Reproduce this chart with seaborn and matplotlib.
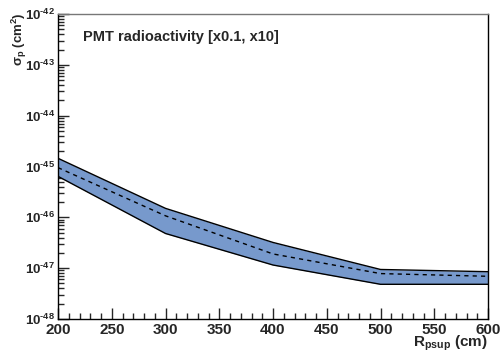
import matplotlib
matplotlib.use("Agg")
import matplotlib.pyplot as plt
import matplotlib.ticker as mticker
import seaborn as sns
import pandas as pd
import numpy as np

radius = [200, 300, 400, 500, 600]
sigma_upper = [1.45e-45, 1.5e-46, 3.2e-47, 9.4e-48, 8.5e-48]
sigma_central = [9.5e-46, 1.07e-46, 1.9e-47, 7.8e-48, 6.9e-48]
sigma_lower = [6.4e-46, 4.8e-47, 1.15e-47, 4.8e-48, 4.8e-48]
y_exponents = [-48, -47, -46, -45, -44, -43, -42]
x_ticks = [200, 250, 300, 350, 400, 450, 500, 550, 600]

sns.set_style("white")
plt.rcParams['font.family'] = ['Liberation Sans', 'DejaVu Sans']
plt.rcParams['mathtext.fontset'] = 'custom'
plt.rcParams['mathtext.rm'] = 'Liberation Sans:bold'
plt.rcParams['mathtext.bf'] = 'Liberation Sans:bold'
plt.rcParams['mathtext.it'] = 'Liberation Sans:bold'
plt.rcParams['axes.unicode_minus'] = False

df = pd.DataFrame({"R": radius, "upper": sigma_upper,
                   "central": sigma_central, "lower": sigma_lower})

fig = plt.figure(figsize=(5, 3.52), dpi=100)
ax = fig.add_axes([0.116, 0.094, 0.86, 0.866])

ax.fill_between(df["R"], df["lower"], df["upper"], color="#7799cc", lw=0)
sns.lineplot(data=df, x="R", y="upper", ax=ax, color="black", lw=1.0)
sns.lineplot(data=df, x="R", y="lower", ax=ax, color="black", lw=1.0)
sns.lineplot(data=df, x="R", y="central", ax=ax, color="black", lw=1.0,
             linestyle=(0, (3, 3)))

ax.set_yscale("log")
ax.set_xlim(200, 600)
ax.set_ylim(1e-48, 1e-42)
ax.set_xticks(x_ticks)
ax.set_xticklabels([str(t) for t in x_ticks], fontsize=11, fontweight="bold")
ax.xaxis.set_minor_locator(mticker.MultipleLocator(10))
ax.set_yticks([10.0**e for e in y_exponents])
ax.set_yticklabels([r"10$^{\mathbf{\text{%d}}}$" % e for e in y_exponents],
                   fontsize=9.5, fontweight="bold")
ax.yaxis.set_minor_locator(mticker.LogLocator(base=10, subs=np.arange(2, 10), numticks=20))
ax.yaxis.set_minor_formatter(mticker.NullFormatter())

ax.tick_params(axis="both", which="major", direction="in", length=8, width=1,
               top=False, right=False, bottom=True, left=True, pad=2)
ax.tick_params(axis="both", which="minor", direction="in", length=4, width=1,
               top=False, right=False, bottom=True, left=True)
ax.tick_params(axis="x", which="major", pad=3)

for s in ["left", "bottom", "right"]:
    ax.spines[s].set_color("black")
    ax.spines[s].set_linewidth(1.0)
ax.spines["top"].set_color("#777777")
ax.spines["top"].set_linewidth(1.0)

ax.set_xlabel("")
ax.set_ylabel("")
fig.text(488 / 500, 1 - 343 / 352, r"R$_{\mathbf{psup}}$ (cm)", fontsize=11,
         fontweight="bold", ha="right", va="center")
fig.text(19 / 500, 1 - 12 / 352, r"$\sigma_{\mathbf{p}}$ (cm$^{\mathbf{2}}$)",
         fontsize=9.5, fontweight="bold", rotation=90, rotation_mode="default",
         ha="center", va="top")

ax.text(0.057, 0.925, "PMT radioactivity [x0.1, x10]", transform=ax.transAxes,
        fontsize=10.5, fontweight="bold", ha="left", va="center")

fig.savefig("out.png", dpi=100)
